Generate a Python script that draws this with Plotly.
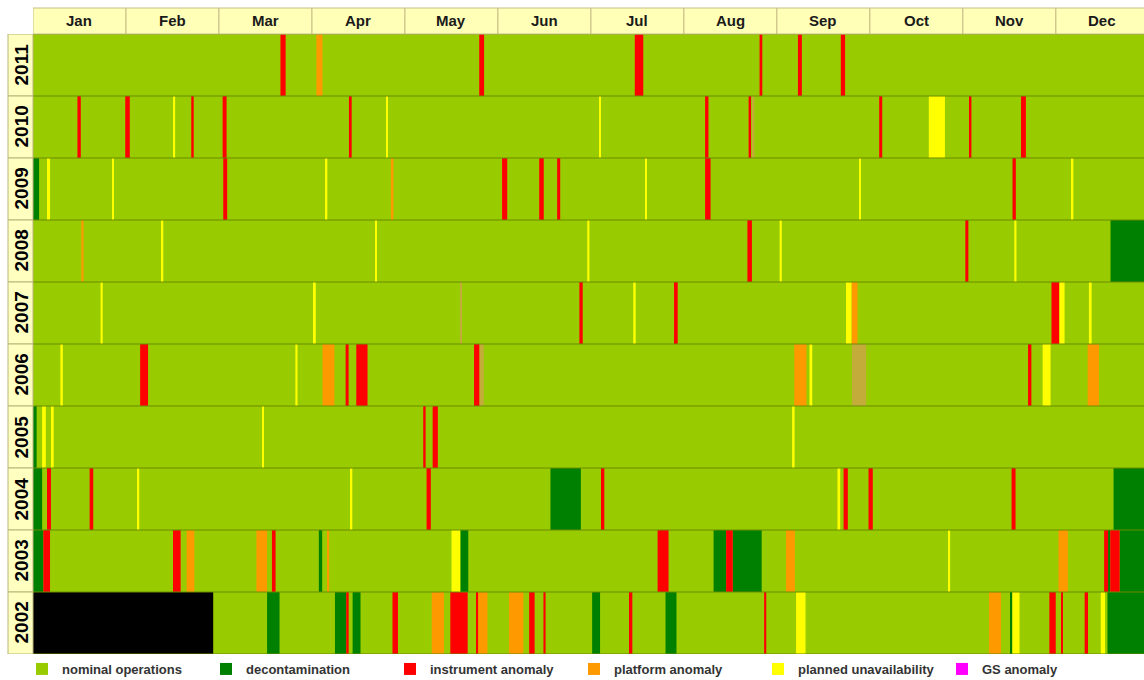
import plotly.graph_objects as go

# ---------------- data ----------------
years = [2011, 2010, 2009, 2008, 2007, 2006, 2005, 2004, 2003, 2002]
month_names = ["Jan", "Feb", "Mar", "Apr", "May", "Jun", "Jul", "Aug", "Sep", "Oct", "Nov", "Dec"]
year_days = 365

status_names = {
    "nominal": "nominal operations",
    "decon": "decontamination",
    "instr": "instrument anomaly",
    "platform": "platform anomaly",
    "planned": "planned unavailability",
    "gs": "GS anomaly",
}
status_colors = {
    "nominal": "#99CC00",
    "decon": "#008000",
    "instr": "#FF0000",
    "platform": "#FF9900",
    "planned": "#FFFF00",
    "gs": "#FF00FF",
    "minor": "#C4AC3A",
    "prelaunch": "#000000",
}

# events: (start day-of-year, end day-of-year, status)
events_2011 = [(81.3, 83.0, "instr"), (93.1, 95.1, "platform"), (146.6, 148.2, "instr"),
               (197.7, 200.5, "instr"), (238.7, 239.6, "instr"), (251.3, 252.6, "instr"),
               (265.4, 266.8, "instr")]
events_2010 = [(14.6, 15.7, "instr"), (30.3, 31.8, "instr"), (46.3, 46.7, "planned"),
               (52.0, 52.8, "instr"), (62.3, 63.6, "instr"), (103.8, 104.7, "instr"),
               (116.2, 116.6, "planned"), (186.2, 186.6, "planned"), (220.8, 221.9, "instr"),
               (235.1, 235.9, "instr"), (236.4, 237.0, "minor"), (278.0, 279.0, "instr"),
               (294.3, 299.6, "planned"), (307.7, 308.3, "instr"), (324.6, 326.2, "instr")]
events_2009 = [(0.0, 2.0, "decon"), (4.6, 5.6, "planned"), (26.1, 26.6, "planned"),
               (62.5, 63.8, "instr"), (96.2, 96.7, "planned"), (117.6, 118.4, "platform"),
               (154.1, 155.8, "instr"), (166.3, 167.8, "instr"), (172.2, 173.2, "instr"),
               (201.2, 201.7, "planned"), (220.8, 222.6, "instr"), (271.4, 271.9, "planned"),
               (321.8, 322.9, "instr"), (341.3, 341.8, "planned")]
events_2008 = [(15.9, 16.6, "platform"), (42.2, 42.8, "planned"), (112.4, 113.0, "planned"),
               (182.1, 182.8, "planned"), (234.7, 236.2, "instr"), (245.3, 246.0, "planned"),
               (306.3, 307.3, "instr"), (322.4, 323.1, "planned"), (354.0, 365.0, "decon")]
events_2007 = [(22.2, 22.9, "planned"), (92.3, 92.9, "planned"), (140.3, 140.8, "minor"),
               (179.5, 180.6, "instr"), (197.2, 198.0, "planned"), (210.6, 211.8, "instr"),
               (267.1, 268.9, "planned"), (268.9, 270.9, "platform"), (334.6, 337.2, "instr"),
               (337.2, 338.9, "planned"), (346.9, 347.8, "planned")]
events_2006 = [(9.0, 9.8, "planned"), (35.2, 37.8, "instr"), (86.2, 86.9, "planned"),
               (95.1, 99.0, "platform"), (102.7, 103.7, "instr"), (106.2, 109.9, "instr"),
               (144.9, 146.7, "instr"), (146.7, 148.1, "minor"), (250.1, 254.1, "platform"),
               (255.1, 256.0, "planned"), (269.1, 273.7, "minor"), (326.9, 328.0, "instr"),
               (331.7, 334.3, "planned"), (346.5, 350.2, "platform")]
events_2005 = [(0.0, 1.2, "decon"), (3.0, 4.2, "planned"), (6.2, 6.8, "planned"),
               (75.4, 75.9, "planned"), (128.2, 129.0, "instr"), (131.3, 133.0, "instr"),
               (249.4, 250.2, "planned")]
events_2004 = [(0.0, 3.0, "decon"), (4.6, 5.9, "instr"), (18.6, 19.8, "instr"),
               (34.3, 34.9, "planned"), (104.3, 104.9, "planned"), (129.3, 130.7, "instr"),
               (170.0, 180.0, "decon"), (186.6, 187.7, "instr"), (264.3, 265.2, "planned"),
               (266.3, 267.7, "instr"), (274.5, 275.9, "instr"), (321.5, 322.8, "instr"),
               (355.0, 365.0, "decon")]
events_2003 = [(0.0, 3.4, "decon"), (3.4, 5.6, "instr"), (46.0, 48.5, "instr"),
               (50.5, 53.0, "platform"), (73.4, 76.9, "platform"), (78.5, 79.7, "instr"),
               (93.9, 95.0, "decon"), (96.6, 97.3, "platform"), (137.5, 140.3, "planned"),
               (140.5, 143.0, "decon"), (205.2, 208.8, "instr"), (223.6, 227.7, "decon"),
               (227.7, 229.9, "instr"), (229.9, 239.4, "decon"), (247.4, 250.3, "platform"),
               (300.6, 301.3, "planned"), (336.9, 340.0, "platform"), (351.9, 353.2, "instr"),
               (353.2, 353.9, "decon"), (353.9, 357.0, "instr"), (357.0, 365.0, "decon")]
events_2002 = [(0.0, 59.2, "prelaunch"), (76.9, 81.0, "decon"), (99.2, 102.9, "decon"),
               (102.9, 103.7, "instr"), (105.0, 107.6, "decon"), (118.1, 119.9, "instr"),
               (131.0, 135.0, "platform"), (137.1, 142.8, "instr"), (145.8, 146.3, "instr"),
               (146.3, 149.3, "platform"), (156.4, 161.1, "platform"), (163.0, 164.8, "instr"),
               (167.7, 168.4, "instr"), (183.7, 186.3, "decon"), (195.8, 196.9, "instr"),
               (207.8, 211.4, "decon"), (240.2, 240.9, "instr"), (250.7, 253.8, "planned"),
               (314.1, 318.0, "platform"), (321.2, 321.5, "decon"), (321.8, 324.1, "planned"),
               (333.9, 336.0, "instr"), (337.8, 338.2, "instr"), (345.5, 346.6, "instr"),
               (350.8, 352.2, "planned"), (353.0, 365.0, "decon")]

events_by_year = {
    2011: events_2011, 2010: events_2010, 2009: events_2009, 2008: events_2008,
    2007: events_2007, 2006: events_2006, 2005: events_2005, 2004: events_2004,
    2003: events_2003, 2002: events_2002,
}

# ---------------- figure ----------------
FONT = "Liberation Sans, Arial, sans-serif"
FIG_W, FIG_H = 1144, 680
M_L, M_T, M_B = 33, 34, 26
PLOT_W, PLOT_H = FIG_W - M_L, FIG_H - M_T - M_B
MONTH_CELL = 30.55  # header cells are drawn with equal widths (in day units)

fig = go.Figure()

# nominal background for each year
fig.add_trace(go.Bar(
    orientation="h", y=years, x=[year_days] * len(years), base=[0] * len(years),
    width=1, marker=dict(color=status_colors["nominal"], line=dict(width=0)),
    name=status_names["nominal"], hoverinfo="skip",
))

order = ["decon", "instr", "platform", "planned", "gs", "minor", "prelaunch"]
for st in order:
    ys, bs, xs = [], [], []
    for yr in years:
        for (s, e, code) in events_by_year[yr]:
            if code == st:
                ys.append(yr)
                bs.append(s)
                xs.append(e - s)
    if not ys:  # keep an (invisible) entry so the category still appears in the legend
        ys, bs, xs = [None], [0], [0]
    fig.add_trace(go.Bar(
        orientation="h", y=ys, x=xs, base=bs, width=1,
        marker=dict(color=status_colors[st], line=dict(width=0)),
        name=status_names.get(st, st), showlegend=st in status_names,
        hoverinfo="skip",
    ))

shapes = []
annotations = []
# row separators
for yr in years + [years[-1] - 1]:
    shapes.append(dict(type="line", xref="x", yref="y", x0=0, x1=year_days,
                       y0=yr + 0.5, y1=yr + 0.5, line=dict(color="#6A8A00", width=1),
                       layer="above"))

# month header
hdr_h = 26 / PLOT_H
for i, name in enumerate(month_names):
    x0 = i * MONTH_CELL
    x1 = x0 + MONTH_CELL
    shapes.append(dict(type="rect", xref="x", yref="paper", x0=x0, x1=x1,
                       y0=1, y1=1 + hdr_h, fillcolor="#FFFFB8",
                       line=dict(color="#C8BE84", width=1), layer="above"))
    annotations.append(dict(xref="x", yref="paper", x=(x0 + x1) / 2, y=1 + hdr_h / 2,
                            text=name, showarrow=False,
                            font=dict(family=FONT, size=15, color="#1A1A1A", weight="bold"),
                            yanchor="middle", xanchor="center"))

# year label column
col_w = 25 / PLOT_W
for yr in years:
    shapes.append(dict(type="rect", xref="paper", yref="y", x0=-col_w, x1=0,
                       y0=yr - 0.5, y1=yr + 0.5, fillcolor="#FFFFC0",
                       line=dict(color="#B8B478", width=1), layer="above"))
    annotations.append(dict(xref="paper", yref="y", x=-col_w / 2, y=yr, text=str(yr),
                            textangle=-90, showarrow=False,
                            font=dict(family=FONT, size=19, color="#000000", weight="bold"),
                            xanchor="center", yanchor="middle"))

fig.update_layout(
    width=FIG_W, height=FIG_H,
    margin=dict(l=M_L, r=0, t=M_T, b=M_B, pad=0, autoexpand=False),
    barmode="overlay",
    plot_bgcolor="white", paper_bgcolor="white",
    xaxis=dict(range=[0, year_days], visible=False, fixedrange=True),
    yaxis=dict(range=[years[-1] - 0.5, years[0] + 0.5], visible=False, fixedrange=True),
    shapes=shapes, annotations=annotations,
    showlegend=True,
    legend=dict(orientation="h", xref="container", yref="container",
                x=22 / FIG_W, xanchor="left", y=1 - (FIG_H - M_B) / FIG_H, yanchor="top",
                entrywidth=139, entrywidthmode="pixels", itemwidth=30,
                font=dict(family=FONT, size=13, color="#333333", weight="bold"),
                bgcolor="rgba(0,0,0,0)", tracegroupgap=0),
)

fig.write_html(
    "out.html",
    config={"responsive": False, "displayModeBar": False},
    post_script="document.body.style.margin='0px';document.body.style.overflow='hidden';",
)
